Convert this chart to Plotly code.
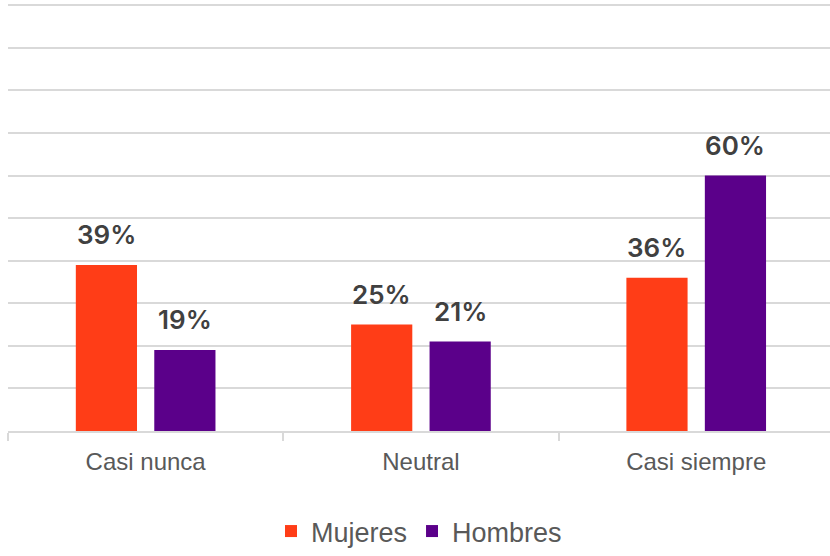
import plotly.graph_objects as go

categories = ["Casi nunca", "Neutral", "Casi siempre"]
mujeres = [39, 25, 36]
hombres = [19, 21, 60]
series_names = ["Mujeres", "Hombres"]
colors = ["#FF3D17", "#5B008A"]

BARGAP = 0.43
BARGROUPGAP = 0.22

fig = go.Figure()
for name, vals, col in zip(series_names, [mujeres, hombres], colors):
    fig.add_trace(go.Bar(
        x=categories, y=vals, name=name, marker_color=col,
        marker_line_width=0,
    ))

# value labels above each bar, centred on each bar's slot
slot = (1 - BARGAP) / 2
offsets = [-slot / 2, slot / 2]
for vals, off in zip([mujeres, hombres], offsets):
    for i, v in enumerate(vals):
        fig.add_annotation(
            x=i + off, y=v, xref="x", yref="y", text=f"{v}%",
            showarrow=False, yanchor="bottom", yshift=13,
            font=dict(family="Inter", size=26, color="#404040", weight=600),
        )

fig.update_layout(
    width=830, height=556,
    margin=dict(l=8, r=0, t=4, b=125, autoexpand=False),
    paper_bgcolor="white", plot_bgcolor="white",
    barmode="group", bargap=BARGAP, bargroupgap=BARGROUPGAP,
    showlegend=True,
    legend=dict(orientation="h", x=0.5, xanchor="center", xref="paper",
                y=15, yanchor="middle", yref="container",
                font=dict(family="Liberation Sans", size=27, color="#595959"),
                itemwidth=30, traceorder="normal"),
)
fig.update_xaxes(
    showline=True, linecolor="#D9D9D9", linewidth=1.5,
    ticks="outside", tickson="boundaries", ticklen=8, tickcolor="#D9D9D9", tickwidth=1.5,
    tickfont=dict(family="Liberation Sans", size=24, color="#595959"),
    ticklabelstandoff=8,
    showgrid=False, range=[-0.5, 2.486],
)
fig.update_yaxes(
    range=[0, 100.3], tickvals=list(range(10, 101, 10)), showticklabels=False,
    showgrid=True, gridcolor="#D9D9D9", gridwidth=1.5, zeroline=False,
)

fig.write_html("out.html")
